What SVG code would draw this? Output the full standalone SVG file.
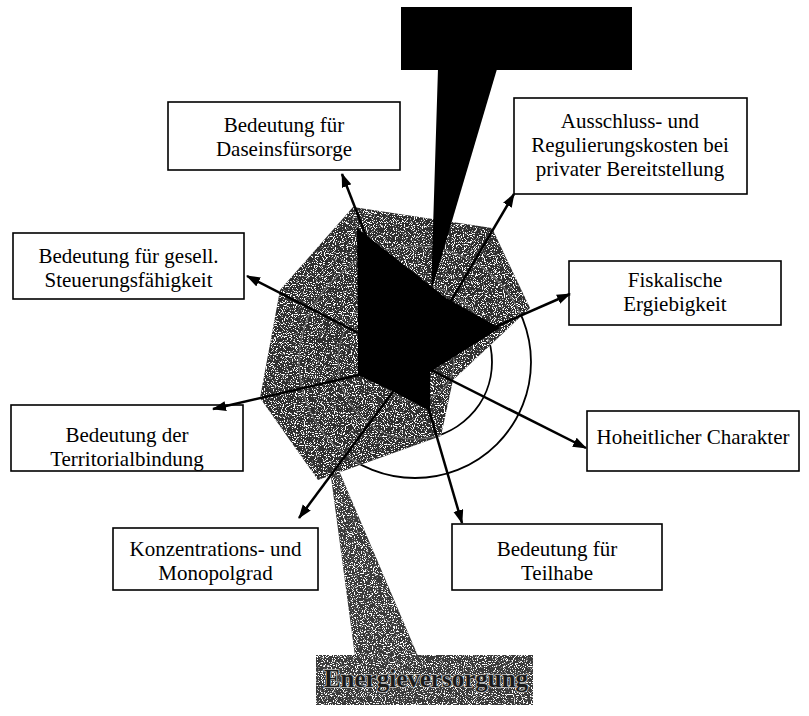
<svg xmlns="http://www.w3.org/2000/svg" width="809" height="716" viewBox="0 0 809 716">
<style>
  .box { fill: #fff; stroke: #000; stroke-width: 1.6; }
  .lbl { font-family: "Liberation Serif", "Times New Roman", serif; font-size: 21px; fill: #000; text-anchor: middle; }
  .axis { stroke: #000; stroke-width: 2.5; fill: none; marker-end: url(#arr); }
  .ring { fill: none; stroke: #000; stroke-width: 1.8; }
  .ringLight { fill: none; stroke: #6e6e6e; stroke-width: 1.2; }
  .stip { filter: url(#stipple); }
</style>
<defs>
  <marker id="arr" markerUnits="userSpaceOnUse" markerWidth="14" markerHeight="11" refX="13" refY="5" orient="auto">
    <path d="M0,0 L14,5 L0,10 Z" fill="#000"/>
  </marker>
  <clipPath id="grayClip">
    <polygon points="353,207 492,228 530,308 453,380 441,436 318,480 260,398 280,290"/>
  </clipPath>
  <filter id="stipple" x="0" y="0" width="1" height="1" color-interpolation-filters="sRGB">
    <feTurbulence type="fractalNoise" baseFrequency="0.9" numOctaves="2" seed="5" result="n"/>
    <feColorMatrix in="n" type="matrix" values="0 0 0 0 1  0 0 0 0 1  0 0 0 0 1  12 0 0 0 -6.6" result="w"/>
    <feComposite in="w" in2="SourceAlpha" operator="in" result="wd"/>
    <feMerge><feMergeNode in="SourceGraphic"/><feMergeNode in="wd"/></feMerge>
  </filter>
</defs>
<rect width="809" height="716" fill="#fff"/>

<!-- rings -->
<g id="rings">
  <circle class="ring" cx="415" cy="362" r="39"/>
  <circle class="ring" cx="415" cy="362" r="77"/>
  <circle class="ring" cx="415" cy="362" r="116"/>
</g>

<!-- bottom callout wedge -->
<polygon id="bottomWedge" class="stip" points="326,440 355,656 418,656" fill="#3a3a3a"/>

<!-- gray data polygon -->
<polygon id="seriesGray" class="stip" points="353,207 492,228 530,308 453,380 441,436 318,480 260,398 280,290" fill="#2e2e2e"/>
<g clip-path="url(#grayClip)">
  <circle class="ringLight" cx="415" cy="362" r="39"/>
  <circle class="ringLight" cx="415" cy="362" r="77"/>
  <circle class="ringLight" cx="415" cy="362" r="116"/>
</g>

<!-- black data polygon -->
<polygon id="seriesBlack" points="357,228 446,298 500,328 430,372 430,411 392,391 358,375 358,333" fill="#000"/>

<!-- top black callout -->
<g id="topCallout">
  <polygon points="438,69 497,69 431,292" fill="#000"/>
  <rect x="401" y="7" width="231" height="63" fill="#000"/>
</g>

<!-- bottom gray callout -->
<g id="bottomCallout">
  <rect class="stip" x="316" y="655" width="217" height="50" fill="#3a3a3a"/>
  <text x="426" y="687" font-family="Liberation Serif, serif" font-size="25" font-weight="bold" text-anchor="middle" fill="#1a1a1a" stroke="#bdbdbd" stroke-width="1.6" paint-order="stroke">Energieversorgung</text>
</g>

<g id="n-dasein">
  <rect class="box" x="168" y="102" width="232" height="68"/>
  <text class="lbl" x="284" y="132">Bedeutung für</text>
  <text class="lbl" x="284" y="156">Daseinsfürsorge</text>
</g>
<g id="n-ausschluss">
  <rect class="box" x="514" y="98" width="233" height="96"/>
  <text class="lbl" x="630" y="128">Ausschluss- und</text>
  <text class="lbl" x="630" y="152">Regulierungskosten bei</text>
  <text class="lbl" x="630" y="176">privater Bereitstellung</text>
</g>
<g id="n-fiskal">
  <rect class="box" x="569" y="261" width="212" height="64"/>
  <text class="lbl" x="675" y="287">Fiskalische</text>
  <text class="lbl" x="675" y="311">Ergiebigkeit</text>
</g>
<g id="n-steuerung">
  <rect class="box" x="13" y="233" width="231" height="66"/>
  <text class="lbl" x="128.5" y="263">Bedeutung für gesell.</text>
  <text class="lbl" x="128.5" y="287">Steuerungsfähigkeit</text>
</g>
<g id="n-territorial">
  <rect class="box" x="11" y="405" width="232" height="66"/>
  <text class="lbl" x="127" y="442">Bedeutung der</text>
  <text class="lbl" x="127" y="466">Territorialbindung</text>
</g>
<g id="n-hoheit">
  <rect class="box" x="587" y="411" width="212" height="60"/>
  <text class="lbl" x="693" y="444">Hoheitlicher Charakter</text>
</g>
<g id="n-konzentration">
  <rect class="box" x="113" y="528" width="205" height="62"/>
  <text class="lbl" x="215.5" y="556">Konzentrations- und</text>
  <text class="lbl" x="215.5" y="580">Monopolgrad</text>
</g>
<g id="n-teilhabe">
  <rect class="box" x="452" y="524" width="210" height="66"/>
  <text class="lbl" x="557" y="556">Bedeutung für</text>
  <text class="lbl" x="557" y="580">Teilhabe</text>
</g>

<!-- connectors (axes) -->
<g id="connectors">
  <line class="axis" x1="415" y1="362" x2="342" y2="174"/>
  <line class="axis" x1="415" y1="362" x2="514" y2="194"/>
  <line class="axis" x1="415" y1="362" x2="570" y2="294"/>
  <line class="axis" x1="415" y1="362" x2="586" y2="448"/>
  <line class="axis" x1="415" y1="362" x2="462" y2="523"/>
  <line class="axis" x1="415" y1="362" x2="299" y2="518"/>
  <line class="axis" x1="415" y1="362" x2="213" y2="409"/>
  <line class="axis" x1="415" y1="362" x2="247" y2="276"/>
</g>
</svg>
